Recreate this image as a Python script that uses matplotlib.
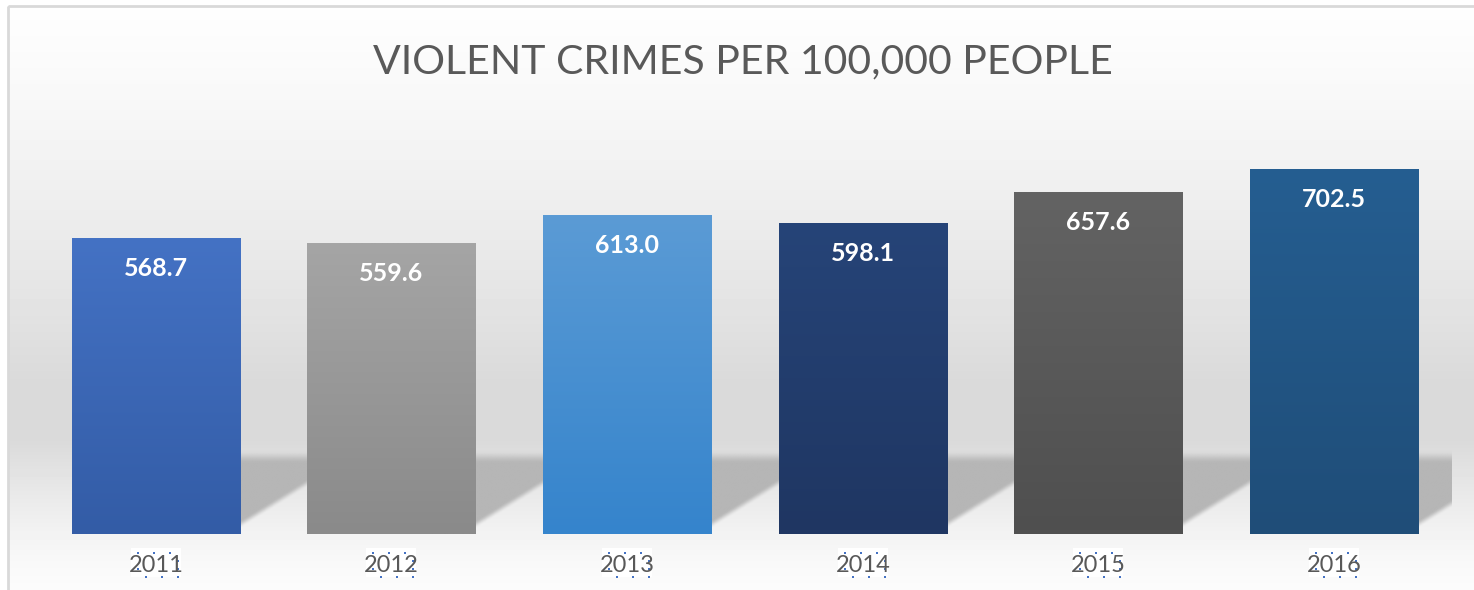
import numpy as np
import matplotlib
matplotlib.use("Agg")
import matplotlib.pyplot as plt
from matplotlib.colors import to_rgb
from matplotlib.patches import Rectangle

plt.rcParams["font.family"] = ["Lato", "DejaVu Sans"]

years = ["2011", "2012", "2013", "2014", "2015", "2016"]
rates = [568.7, 559.6, 613.0, 598.1, 657.6, 702.5]
top_colors = ["#4472c4", "#a5a5a5", "#5b9bd5", "#264478", "#636363", "#255e91"]
bottom_colors = ["#335ca6", "#8a8a8a", "#3584cc", "#1f3662", "#4f4f4f", "#1f4d78"]
title = "VIOLENT CRIMES PER 100,000 PEOPLE"

W, H = 1474, 590
TEXT = "#595959"
fig = plt.figure(figsize=(W / 100, H / 100), dpi=100)

# chart area backdrop: vertical gray gradient in pixel coordinates
bg = fig.add_axes([0, 0, 1, 1])
bg.axis("off")
stops_y = [0, 20, 100, 200, 300, 380, 440, 490, 534, 560, 590]
stops_g = [255, 253, 248, 238, 228, 218, 218, 232, 243, 248, 252]
rows = np.interp(np.arange(H), stops_y, stops_g) / 255
grad = np.repeat(rows[:, None], W, axis=1)
grad[:6, :] = 1
grad[:, :8] = 1
bg.imshow(grad, cmap="gray", vmin=0, vmax=1, extent=[0, W, H, 0],
          aspect="auto", interpolation="bilinear")
bg.add_patch(Rectangle((8, 6), 1470, 600, fill=False, ec="#d9d9d9", lw=2))
bg.set_xlim(0, W)
bg.set_ylim(H, 0)

# plot area
ax = fig.add_axes([38 / W, 56 / H, 1414 / W, 416 / H])
ax.patch.set_alpha(0)
xs = np.arange(len(rates))
bar_w = 0.713

# soft cast shadow to the right of each bar
gx = np.linspace(-0.5, 5.5, 1600)
gy = np.linspace(0, 200, 240)
X, Y = np.meshgrid(gx, gy)


def smooth(t):
    t = np.clip(t, 0, 1)
    return t * t * (3 - 2 * t)


alpha = np.zeros_like(X)
for x in xs:
    dx = X - (x + bar_w / 2)
    low = 10 + 281 * dx
    a = smooth((Y - low) / 16) * smooth((162 - Y) / 26) * (dx >= 0)
    alpha = np.maximum(alpha, a)
shadow = np.zeros(X.shape + (4,))
shadow[..., :3] = 181 / 255
shadow[..., 3] = alpha * 0.97
ax.imshow(shadow, extent=[-0.5, 5.5, 0, 200], origin="lower", aspect="auto",
          interpolation="bilinear", zorder=1)

# bars with vertical gradient fill
bars = ax.bar(xs, rates, width=bar_w, color="none", zorder=2)
g = np.linspace(0, 1, 256)[:, None, None]
for rect, c0, c1 in zip(bars, top_colors, bottom_colors):
    col = np.array(to_rgb(c1)) * (1 - g) + np.array(to_rgb(c0)) * g
    x0 = rect.get_x()
    im = ax.imshow(col, extent=[x0, x0 + rect.get_width(), 0, rect.get_height()],
                   origin="lower", aspect="auto", zorder=3)
    im.set_clip_path(rect)

for x, v in zip(xs, rates):
    ax.annotate(f"{v:.1f}", (x, v), xytext=(0, -27.4), textcoords="offset points",
                ha="center", va="baseline", color="white", fontsize=18,
                fontweight="bold", zorder=5)
    ax.annotate(years[x], (x, 0), xytext=(0, -27.4), textcoords="offset points",
                ha="center", va="baseline", color=TEXT, fontsize=17, zorder=5,
                annotation_clip=False)

ax.set_xlim(-0.5, 5.5)
ax.set_ylim(0, 800)
ax.set_xticks([])
ax.set_yticks([])
for s in ax.spines.values():
    s.set_visible(False)

# white label boxes with dotted proofing marks around the year labels
top_dx = [-18, -2, 14]
bot_dx = [-10, 6, 22]
for x in xs:
    cx, by = ax.transData.transform((x, 0))
    by = H - by
    cy = by + 29
    bg.add_patch(Rectangle((cx - 25, cy - 15), 50, 29, fc="white", ec="none"))
    dots = [(cx + d, cy - 10) for d in top_dx] + [(cx + d, cy + 14) for d in bot_dx]
    dots += [(cx + 22, cy - 2), (cx + 22, cy + 6), (cx - 18, cy + 6)]
    dx_, dy_ = zip(*dots)
    bg.plot(dx_, dy_, ls="none", marker="s", ms=1.8, color="#4472c4", mew=0)

fig.text(743 / W, 1 - 73 / H, title, ha="center", va="baseline",
         fontsize=29.5, color=TEXT)

fig.savefig("out.png", dpi=100)
